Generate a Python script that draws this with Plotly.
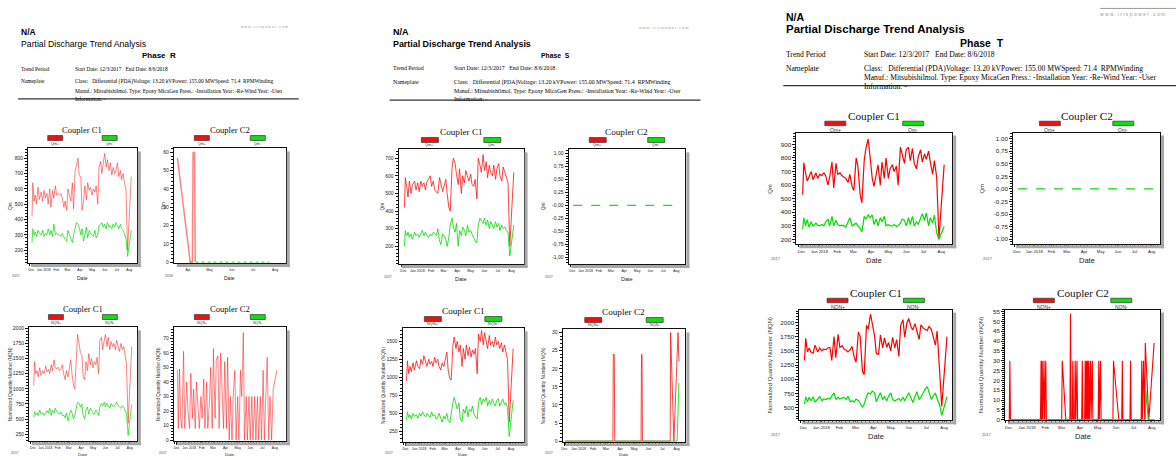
import plotly.graph_objects as go

W, H = 1176, 460

# ---------------- data ----------------
DATES = ["2017-12-03", "2017-12-05", "2017-12-08", "2017-12-11", "2017-12-14", "2017-12-18", "2017-12-21", "2017-12-26", "2017-12-29",
         "2018-01-02", "2018-01-05", "2018-01-09", "2018-01-12", "2018-01-16", "2018-01-19", "2018-01-23", "2018-01-26", "2018-01-30",
         "2018-02-02", "2018-02-06", "2018-02-09", "2018-02-13", "2018-02-16", "2018-02-20", "2018-02-23", "2018-02-27",
         "2018-03-02", "2018-03-06", "2018-03-09", "2018-03-13", "2018-03-16", "2018-03-20", "2018-03-23", "2018-03-27", "2018-03-30",
         "2018-04-03", "2018-04-06", "2018-04-10", "2018-04-13", "2018-04-17", "2018-04-20", "2018-04-24", "2018-04-27",
         "2018-05-01", "2018-05-04", "2018-05-08", "2018-05-11", "2018-05-15", "2018-05-18", "2018-05-22", "2018-05-25", "2018-05-29",
         "2018-06-01", "2018-06-05", "2018-06-08", "2018-06-12", "2018-06-15", "2018-06-19", "2018-06-22", "2018-06-26", "2018-06-29",
         "2018-07-03", "2018-07-06", "2018-07-10", "2018-07-13", "2018-07-17", "2018-07-20", "2018-07-24", "2018-07-28", "2018-08-06"]

# Phase R
R_QM_POS = [420, 640, 520, 560, 500, 610, 530, 580, 520, 590, 540, 570, 500, 600, 480, 590, 540, 620, 560, 570,
            560, 570, 540, 480, 520, 460, 600, 560, 520, 640, 470, 720, 760, 800, 690, 680, 460, 520, 620, 530,
            640, 590, 610, 560, 600, 580, 620, 500, 740, 780, 700, 760, 830, 740, 790, 720, 770, 690, 740, 700,
            720, 770, 680, 720, 660, 700, 640, 600, 200, 680]
R_QM_NEG = [250, 340, 300, 320, 290, 330, 310, 300, 330, 290, 310, 300, 340, 300, 330, 290, 370, 300, 310, 300,
            300, 290, 310, 280, 270, 260, 330, 300, 280, 250, 300, 360, 380, 370, 350, 300, 340, 260, 310, 350,
            280, 330, 310, 300, 290, 330, 280, 300, 360, 370, 380, 350, 370, 340, 380, 350, 360, 340, 370, 350,
            380, 360, 340, 370, 340, 330, 310, 280, 160, 330]
R_NQN_POS = [1050, 1450, 1250, 1300, 1200, 1350, 1220, 1300, 1250, 1380, 1280, 1320, 1250, 1400, 1300, 1480, 1350, 1330, 1360, 1300,
             1320, 1400, 1250, 1150, 1300, 1200, 1330, 1480, 1250, 1050, 1000, 1700, 1900, 1750, 1600, 1550, 1200, 1150, 1450, 1300,
             1580, 1400, 1500, 1350, 1450, 1400, 1520, 1250, 1800, 1850, 1650, 1800, 1900, 1700, 1850, 1650, 1780, 1700, 1750, 1650,
             1800, 1700, 1620, 1750, 1650, 1700, 1550, 1400, 430, 1700]
R_NQN_NEG = [530, 620, 570, 600, 560, 650, 580, 600, 560, 620, 640, 600, 680, 560, 650, 600, 680, 620, 600, 580,
             620, 550, 570, 520, 600, 470, 560, 650, 600, 500, 560, 720, 780, 760, 700, 750, 560, 500, 650, 700,
             580, 680, 640, 600, 580, 650, 620, 560, 700, 760, 720, 780, 700, 760, 720, 680, 760, 720, 700, 740,
             780, 720, 700, 680, 720, 700, 640, 600, 230, 740]
R_C2_QM_DATES = ["2018-03-17", "2018-04-04", "2018-04-07", "2018-04-08", "2018-04-10", "2018-04-11"]
R_C2_QM_POS = [57, 0, 0, 60, 60, 0]
R_C2_QM_NEG = [0, 0, 0, 0, 0, 0, 0, 0, 0, 0, 0, 0, 0, 0, 0, 0, 0, 0, 0, 0, 0, 0, 0, 0, 0, 0, 0, 0, 0, 0, 0, 0, 0]
R_C2_NQN_POS = [48, 8, 49, 15, 8, 61, 8, 40, 20, 8, 46, 15, 35, 8, 40, 25, 8, 30, 15, 42,
                8, 40, 8, 25, 50, 8, 63, 15, 55, 58, 8, 60, 35, 8, 54, 8, 57, 0, 30, 0,
                30, 48, 0, 30, 0, 48, 30, 74, 0, 30, 0, 30, 0, 30, 0, 30, 0, 30, 0, 30,
                0, 48, 0, 30, 57, 0, 30, 0, 35, 48]

# Phase S
S_QM_POS = [420, 590, 540, 480, 570, 500, 550, 570, 520, 560, 510, 570, 540, 560, 520, 570, 580, 600, 540, 570,
            520, 510, 500, 590, 560, 510, 540, 580, 500, 420, 400, 640, 700, 670, 610, 550, 640, 500, 600, 560,
            630, 590, 570, 610, 550, 540, 580, 470, 700, 660, 620, 720, 630, 680, 590, 660, 620, 600, 660, 580,
            640, 670, 600, 570, 650, 620, 590, 560, 200, 620]
S_QM_NEG = [200, 290, 260, 280, 250, 270, 240, 280, 260, 270, 250, 270, 290, 260, 280, 260, 250, 270, 260, 280,
            270, 260, 300, 230, 210, 270, 260, 240, 200, 250, 320, 360, 310, 280, 330, 200, 290, 260, 310, 290,
            260, 320, 280, 290, 270, 250, 230, 220, 320, 360, 350, 330, 360, 320, 350, 300, 340, 320, 300, 340,
            310, 330, 290, 320, 300, 310, 290, 280, 145, 320]
S_NQN_POS = [950, 1230, 1050, 1150, 1080, 1200, 1100, 1230, 1150, 1120, 1250, 1180, 1300, 1200, 1150, 1250, 1180, 1220, 1150, 1280,
             1200, 1250, 1150, 1100, 1200, 1150, 1230, 1350, 1100, 980, 960, 1450, 1560, 1400, 1500, 1350, 1450, 1150, 1400, 1250,
             1450, 1300, 1420, 1280, 1380, 1320, 1400, 1050, 1600, 1500, 1650, 1450, 1620, 1500, 1400, 1580, 1450, 1500, 1420, 1560,
             1450, 1500, 1400, 1480, 1350, 1450, 1380, 1250, 380, 1400]
S_NQN_NEG = [400, 520, 440, 480, 420, 500, 460, 480, 430, 500, 460, 520, 480, 450, 500, 470, 440, 520, 460, 480,
             420, 450, 500, 430, 380, 460, 420, 500, 400, 370, 500, 650, 720, 600, 560, 640, 420, 380, 560, 500,
             600, 450, 560, 520, 600, 480, 450, 420, 650, 720, 620, 700, 660, 720, 600, 680, 620, 700, 640, 600,
             680, 700, 600, 660, 700, 620, 650, 580, 180, 680]
C2_QM_ZERO = [0, 0, 0, 0, 0, 0, 0, 0, 0, 0, 0, 0, 0, 0, 0, 0, 0, 0, 0, 0, 0, 0, 0, 0, 0, 0, 0, 0, 0, 0, 0, 0, 0, 0, 0,
              0, 0, 0, 0, 0, 0, 0, 0, 0, 0, 0, 0, 0, 0, 0, 0, 0, 0, 0, 0, 0, 0, 0, 0, 0, 0, 0, 0, 0, 0, 0, 0, 0, 0, 0]
S_C2_NQN_DATES = ["2017-12-03", "2018-03-16", "2018-03-17", "2018-03-19", "2018-03-20", "2018-05-16", "2018-05-17",
                  "2018-05-18", "2018-05-19", "2018-07-18", "2018-07-19", "2018-07-26", "2018-08-04", "2018-08-06"]
S_C2_NQN_POS = [0, 0, 24, 24, 0, 0, 24, 24, 0, 0, 30, 0, 30, 22]
S_C2_NQN_NEG_DATES = ["2017-12-03", "2018-08-02", "2018-08-06"]
S_C2_NQN_NEG = [0, 0, 16]

# Phase T
T_QM_POS = [530, 765, 690, 630, 660, 700, 640, 690, 650, 680, 670, 690, 670, 600, 660, 770, 580, 760, 680, 690,
            670, 660, 650, 620, 680, 590, 560, 800, 740, 530, 470, 780, 870, 940, 830, 650, 590, 680, 750, 600,
            770, 650, 800, 650, 720, 750, 700, 740, 600, 880, 820, 760, 860, 880, 780, 870, 760, 720, 810, 860,
            770, 830, 790, 850, 770, 680, 780, 660, 205, 750]
T_QM_NEG = [275, 360, 300, 345, 290, 330, 300, 320, 305, 300, 310, 300, 330, 350, 300, 370, 300, 340, 310, 300,
            305, 300, 290, 330, 360, 300, 310, 320, 300, 280, 255, 370, 350, 380, 360, 380, 310, 350, 300, 360,
            330, 370, 300, 310, 300, 300, 310, 295, 300, 320, 350, 340, 300, 360, 310, 370, 300, 330, 310, 350,
            390, 340, 395, 300, 360, 320, 380, 250, 200, 295]
T_NQN_POS = [1330, 1720, 1480, 1550, 1480, 1460, 1600, 1480, 1550, 1500, 1530, 1520, 1550, 1560, 1330, 1750, 1380, 1790, 1560, 1590,
             1530, 1510, 1480, 1520, 1580, 1380, 1300, 1830, 1760, 1140, 1080, 1950, 1880, 2150, 1980, 1760, 1450, 1440, 1780, 1550,
             1730, 1560, 1650, 1500, 1740, 1550, 1700, 1400, 1950, 2050, 1740, 2000, 2070, 1920, 1870, 1980, 1850, 1700, 1960, 1900,
             1880, 1860, 1930, 1880, 1760, 1600, 1850, 1200, 520, 1750]
T_NQN_NEG = [560, 690, 600, 680, 620, 690, 600, 650, 700, 620, 650, 640, 660, 650, 700, 760, 640, 680, 650, 660,
             680, 640, 700, 600, 620, 600, 650, 620, 580, 500, 560, 690, 760, 740, 790, 760, 600, 700, 760, 640,
             690, 620, 700, 760, 640, 620, 640, 660, 620, 680, 620, 700, 760, 670, 590, 700, 780, 640, 680, 760,
             820, 870, 780, 640, 700, 760, 650, 560, 360, 690]
T_C2_NQN_DATES = ["2017-12-02", "2017-12-03", "2017-12-04",
                  "2018-01-24", "2018-01-25", "2018-01-26", "2018-01-27", "2018-01-28", "2018-01-30", "2018-01-31", "2018-02-02", "2018-02-03",
                  "2018-03-01", "2018-03-02", "2018-03-08", "2018-03-15", "2018-03-16", "2018-03-17",
                  "2018-03-19", "2018-03-20", "2018-03-21", "2018-03-23", "2018-03-24", "2018-03-25", "2018-03-27", "2018-03-28",
                  "2018-04-04", "2018-04-05", "2018-04-06", "2018-04-09", "2018-04-10", "2018-04-11", "2018-04-12", "2018-04-13",
                  "2018-04-14", "2018-04-15", "2018-04-16", "2018-04-17", "2018-04-19", "2018-04-20", "2018-04-22", "2018-04-23",
                  "2018-05-02", "2018-05-03", "2018-05-04", "2018-05-06", "2018-05-07",
                  "2018-05-27", "2018-05-28", "2018-06-06", "2018-06-11", "2018-06-12", "2018-06-13",
                  "2018-06-25", "2018-06-26", "2018-06-27",
                  "2018-07-14", "2018-07-15", "2018-07-16", "2018-07-18", "2018-07-20", "2018-07-21", "2018-07-27", "2018-08-05"]
T_C2_NQN_POS = [0, 30, 0,
                0, 30, 0, 30, 0, 30, 0, 30, 0,
                0, 30, 0, 0, 54, 0,
                0, 30, 0, 0, 30, 0, 30, 0,
                0, 30, 0, 0, 30, 0, 30, 0,
                30, 0, 30, 0, 30, 0, 30, 0,
                0, 30, 0, 30, 0,
                0, 30, 0, 0, 30, 0,
                0, 30, 0,
                0, 30, 0, 30, 0, 39, 0, 39]
T_C2_NQN_NEG_DATES = ["2017-12-03", "2018-07-21", "2018-07-22", "2018-07-26", "2018-08-06"]
T_C2_NQN_NEG = [0, 0, 15, 0, 0]

# tick labels
MONTH_TICKS = ["2017-12-01", "2018-01-01", "2018-02-01", "2018-03-01", "2018-04-01",
               "2018-05-01", "2018-06-01", "2018-07-01", "2018-08-01"]
MONTH_LABELS = ["Dec", "Jan 2018", "Feb", "Mar", "Apr", "May", "Jun", "Jul", "Aug"]
R_C2_TICKS = ["2018-04-01", "2018-05-01", "2018-06-01", "2018-07-01", "2018-08-01"]
R_C2_LABELS = ["Apr", "May", "Jun", "Jul", "Aug"]
UNIT_TICKS = [1.0, 0.75, 0.5, 0.25, 0.0, -0.25, -0.5, -0.75, -1.0]
UNIT_LABELS = ["1,00", "0,75", "0,50", "0,25", "-0,00", "-0,25", "-0,50", "-0,75", "-1,00"]
QM_TICKS_R = [200, 300, 400, 500, 600, 700, 800]
QM_TICKS_S = [200, 300, 400, 500, 600, 700]
QM_TICKS_T = [200, 300, 400, 500, 600, 700, 800, 900]
NQN_TICKS_R = [250, 500, 750, 1000, 1250, 1500, 1750, 2000]
NQN_TICKS_S = [250, 500, 750, 1000, 1250, 1500]
NQN_TICKS_T = [500, 750, 1000, 1250, 1500, 1750, 2000]
C2_TICKS_R_QM = [0, 10, 20, 30, 40, 50, 60]
C2_TICKS_R_NQN = [0, 10, 20, 30, 40, 50, 60, 70]
C2_TICKS_S_NQN = [0, 5, 10, 15, 20, 25, 30]
C2_TICKS_T_NQN = [0, 5, 10, 15, 20, 25, 30, 35, 40, 45, 50, 55]

HEAD_TITLE = "Partial Discharge Trend Analysis"
TREND = "Start Date: 12/3/2017\u00a0\u00a0 End Date: 8/6/2018"
NAME1 = "Class:\u00a0\u00a0 Differential (PDA)Voltage: 13.20 kVPower: 155.00 MWSpeed: 71.4\u00a0 RPMWinding"
NAME2 = "Manuf.: Mitsubishilmol. Type: Epoxy MicaGen Press.: -Installation Year: -Re-Wind Year: -User"
NAME3 = "Information: -"

# ---------------- helpers ----------------
SANS = "Liberation Sans"
SERIF = "Liberation Serif"


def px(x):
    return x / W


def py(y):
    return 1 - y / H


ann, shp, lay = [], [], {}
fig = go.Figure()


def text(x, y, s, size, family=SANS, color="#111", xanchor="left", angle=0):
    ann.append(dict(x=px(x), y=py(y), xref="paper", yref="paper", text=s, showarrow=False,
                    xanchor=xanchor, yanchor="middle", textangle=angle,
                    font=dict(size=size, family=family, color=color)))


def hline(x0, x1, y, color, width):
    shp.append(dict(type="line", xref="paper", yref="paper", x0=px(x0), x1=px(x1),
                    y0=py(y), y1=py(y), line=dict(color=color, width=width)))


def rect(x0, y0, x1, y1, fill, lc=None, lw=0):
    shp.append(dict(type="rect", xref="paper", yref="paper", x0=px(x0), x1=px(x1),
                    y0=py(y1), y1=py(y0), fillcolor=fill,
                    line=dict(color=lc or fill, width=lw), layer="above"))


def header(x, ys, sizes, phase, phase_x, url_x, url_y, line_x1, line_y, col2_x, bold_title):
    t = "<b>%s</b>" % HEAD_TITLE if bold_title else HEAD_TITLE
    text(x, ys[0], "<b>N/A</b>", sizes[0], color="#000")
    text(x, ys[1], t, sizes[1], color="#000")
    text(phase_x, ys[2], "<b>Phase\u00a0\u00a0%s</b>" % phase, sizes[2], color="#000", xanchor="center")
    text(x, ys[3], "Trend Period", sizes[3], SERIF, "#000")
    text(col2_x, ys[3], TREND, sizes[3], SERIF, "#000")
    text(x, ys[4], "Nameplate", sizes[3], SERIF, "#000")
    text(col2_x, ys[4], NAME1, sizes[3], SERIF, "#000")
    text(col2_x, ys[5], NAME2, sizes[3], SERIF, "#000")
    text(col2_x, ys[6], NAME3, sizes[3], SERIF, "#000")
    hline(x - 1, line_x1, line_y, "#333", 1.2)
    text(url_x, url_y, "w w w . i r i s p o w e r . c o m", sizes[4], color="#9a9a9a")


def subplot(i, box, xr, yticks, ylabels, yminor, yr, traces, title, legend, ytitle, sc,
            ytx, xticks=MONTH_TICKS, xlabels=MONTH_LABELS, corner="2017"):
    x0, x1, y0, y1 = box
    sfx = "" if i == 1 else str(i)
    lay["xaxis" + sfx] = dict(
        domain=[px(x0), px(x1)], anchor="y" + sfx, type="date", range=xr,
        tickmode="array", tickvals=xticks, ticktext=xlabels, tickangle=0,
        tickfont=dict(size=sc["xt"], family=SANS, color="#222"),
        ticks="outside", ticklen=3, tickwidth=1, tickcolor="#111",
        showline=True, linecolor="#111", linewidth=1, mirror=True,
        showgrid=False, zeroline=False, fixedrange=True,
        minor=dict(tickmode="linear", tick0="2017-12-03", dtick=7 * 86400000,
                   ticks="outside", ticklen=2, tickcolor="#111", showgrid=False))
    lay["yaxis" + sfx] = dict(
        domain=[py(y1), py(y0)], anchor="x" + sfx, range=yr,
        tickmode="array", tickvals=yticks, ticktext=ylabels,
        tickfont=dict(size=sc["yt"], family=SANS, color="#222"),
        ticks="outside", ticklen=3, tickwidth=1, tickcolor="#111",
        showline=True, linecolor="#111", linewidth=1, mirror=True,
        showgrid=False, zeroline=False, fixedrange=True,
        minor=dict(tickmode="linear", tick0=0, dtick=yminor, ticks="outside",
                   ticklen=2, tickcolor="#111", showgrid=False))
    for (xs, ys, color, width, dash) in traces:
        fig.add_trace(go.Scatter(x=xs, y=ys, xaxis="x" + sfx, yaxis="y" + sfx, mode="lines",
                                 line=dict(color=color, width=width, dash=dash),
                                 showlegend=False, hoverinfo="skip"))
    # shadow
    rect(x1 + 1, y0 + 3, x1 + 4, y1 + 4, "#a8a8a8")
    rect(x0 + 3, y1 + 1, x1 + 4, y1 + 4, "#a8a8a8")
    w = x1 - x0
    text((x0 + x1) / 2, y0 - sc["tg"], title, sc["tf"], SERIF, "#111", "center")
    for frac, col, lab in ((0.25, "#ee1111", legend[0]), (0.75, "#11dd11", legend[1])):
        cx = x0 + frac * w
        rect(cx - sc["bw"] / 2, y0 - sc["bg"] - sc["bh"], cx + sc["bw"] / 2, y0 - sc["bg"],
             col, "#333", 0.7)
        text(cx, y0 - sc["lg"], lab, sc["lf"], SANS, "#333", "center")
    text(ytx, (y0 + y1) / 2, ytitle, sc["ytf"], SANS, "#333", "center", -90)
    dy = y1 + sc["dg"]
    if dy > 455:
        text((x0 + x1) / 2, 457, "Date", 4.4, SANS, "#222", "center")
    else:
        text((x0 + x1) / 2, dy, "Date", sc["df"], SANS, "#222", "center")
    text(ytx - 1, min(y1 + sc["cg"], 456), corner, sc["cf"], SANS, "#555", "left")


RED1, GRN1 = "rgba(255,30,30,0.55)", "rgba(0,220,0,0.7)"
RED2, GRN2 = "rgba(255,20,20,0.8)", "rgba(20,220,20,0.85)"
RED3, GRN3 = "#ff0000", "#00e000"

S1 = dict(xt=3.4, yt=5, tf=8.6, tg=19, bw=15, bh=5, bg=8, lg=4, lf=3.6, ytf=4.6, dg=15, df=5, cg=13, cf=3.5)
S2 = dict(xt=3.6, yt=5, tf=9.2, tg=18, bw=17, bh=5, bg=7, lg=4.5, lf=3.8, ytf=4.8, dg=15, df=5.5, cg=13, cf=3.5)
S3 = dict(xt=4.2, yt=6.2, tf=11.2, tg=17, bw=21, bh=4.5, bg=7, lg=3, lf=5, ytf=6, dg=16, df=7.5, cg=14, cf=4)

# ---------------- Phase R ----------------
header(18, [30, 42.5, 54, 67.5, 80, 89.5, 98.5], [8.5, 8.7, 8, 5.4, 3.6], "R", 158, 238, 25, 298, 98, 72, False)
subplot(1, (27, 136, 148, 264), ["2017-11-23", "2018-08-20"], QM_TICKS_R, None, 20, [116, 864],
        [(DATES, R_QM_POS, RED1, 1, "solid"), (DATES, R_QM_NEG, GRN1, 1, "solid")],
        "Coupler C1", ("Qm+", "Qm-"), "Qm", S1, 10)
subplot(2, (173, 285, 148, 264), ["2018-03-12", "2018-08-16"], C2_TICKS_R_QM, None, 2, [-0.6, 62.2],
        [(R_C2_QM_DATES, R_C2_QM_POS, RED1, 1.5, "solid"), (DATES[35:68], R_C2_QM_NEG, GRN1, 1.2, "dot")],
        "Coupler C2", ("Qm+", "Qm-"), "Qm", S1, 163, R_C2_TICKS, R_C2_LABELS, "2018")
subplot(3, (28, 136, 329, 444), ["2017-11-21", "2018-08-19"], NQN_TICKS_R, None, 50, [135, 2016],
        [(DATES, R_NQN_POS, RED1, 1, "solid"), (DATES, R_NQN_NEG, GRN1, 1, "solid")],
        "Coupler C1", ("NQN+", "NQN-"), "Normalized Quantity Number (NQN)", S1, 9)
subplot(4, (173, 285, 329, 444), ["2017-11-24", "2018-08-28"], C2_TICKS_R_NQN, None, 2, [-0.7, 77.5],
        [(DATES, R_C2_NQN_POS, RED1, 1, "solid")],
        "Coupler C2", ("NQN+", "NQN-"), "Normalized Quantity Number (NQN)", S1, 157)

# ---------------- Phase S ----------------
header(390, [30, 42.5, 54.5, 67, 81, 89.5, 98.5], [9, 8.9, 6.8, 5.9, 3.8], "S", 555, 637, 26, 700, 99.3, 451, True)
subplot(5, (398, 523, 149, 265), ["2017-11-20", "2018-08-28"], QM_TICKS_S, None, 20, [99, 750],
        [(DATES, S_QM_POS, RED2, 1, "solid"), (DATES, S_QM_NEG, GRN2, 1, "solid")],
        "Coupler C1", ("Qm+", "Qm-"), "Qm", S2, 382)
subplot(6, (568, 685, 149, 265), ["2017-11-22", "2018-08-22"], UNIT_TICKS, UNIT_LABELS, 0.05, [-1.13, 1.08],
        [(DATES, C2_QM_ZERO, "#22dd22", 1.2, "dash")],
        "Coupler C2", ("Qm+", "Qm-"), "Qm", S2, 543)
subplot(7, (402, 523, 330, 445), ["2017-11-24", "2018-08-30"], NQN_TICKS_S, None, 50, [99, 1679],
        [(DATES, S_NQN_POS, RED2, 1, "solid"), (DATES, S_NQN_NEG, GRN2, 1, "solid")],
        "Coupler C1", ("NQN+", "NQN-"), "Normalized Quantity Number (NQN)", S2, 383)
subplot(8, (562, 685, 331, 445), ["2017-11-27", "2018-08-20"], C2_TICKS_S_NQN, None, 1, [-0.3, 30.9],
        [(S_C2_NQN_DATES, S_C2_NQN_POS, RED2, 1, "solid"), (S_C2_NQN_NEG_DATES, S_C2_NQN_NEG, GRN2, 1, "solid")],
        "Coupler C2", ("NQN+", "NQN-"), "Normalized Quantity Number (NQN)", S2, 543)

# ---------------- Phase T ----------------
header(784, [15.5, 27.5, 41, 53, 67, 76, 85], [10.5, 11.5, 10.5, 7.6, 5], "T", 982, 1098, 12, 1176, 84.5, 862, True)
hline(1100, 1176, 6.5, "#999", 1)
subplot(9, (796, 952, 132, 245), ["2017-11-22", "2018-08-20"], QM_TICKS_T, None, 20, [164, 987],
        [(DATES, T_QM_POS, RED3, 1.2, "solid"), (DATES, T_QM_NEG, GRN3, 1.2, "solid")],
        "Coupler C1", ("Qm+", "Qm-"), "Qm", S3, 770)
subplot(10, (1013, 1160, 132, 245), ["2017-11-24", "2018-08-16"], UNIT_TICKS, UNIT_LABELS, 0.05, [-1.10, 1.12],
        [(DATES, C2_QM_ZERO, GRN3, 1.2, "dash")],
        "Coupler C2", ("Qm+", "Qm-"), "Qm", S3, 982)
subplot(11, (799, 952, 311, 423), ["2017-11-24", "2018-08-15"], NQN_TICKS_T, None, 50, [273, 2227],
        [(DATES, T_NQN_POS, RED3, 1.2, "solid"), (DATES, T_NQN_NEG, GRN3, 1.2, "solid")],
        "Coupler C1", ("NQN+", "NQN-"), "Normalized Quantity Number (NQN)", S3, 770)
subplot(12, (1005, 1160, 311, 423), ["2017-11-25", "2018-08-15"], C2_TICKS_T_NQN, None, 1, [-0.3, 56],
        [(T_C2_NQN_DATES, T_C2_NQN_POS, RED3, 1.1, "solid"), (T_C2_NQN_NEG_DATES, T_C2_NQN_NEG, GRN3, 1.1, "solid")],
        "Coupler C2", ("NQN+", "NQN-"), "Normalized Quantity Number (NQN)", S3, 981)

fig.update_layout(width=W, height=H, autosize=False, margin=dict(l=0, r=0, t=0, b=0),
                  paper_bgcolor="white", plot_bgcolor="white", showlegend=False,
                  annotations=ann, shapes=shp, **lay)
fig.write_html("out.html", config={"displayModeBar": False},
               post_script="document.body.style.margin='0px';document.body.style.padding='0px';")
